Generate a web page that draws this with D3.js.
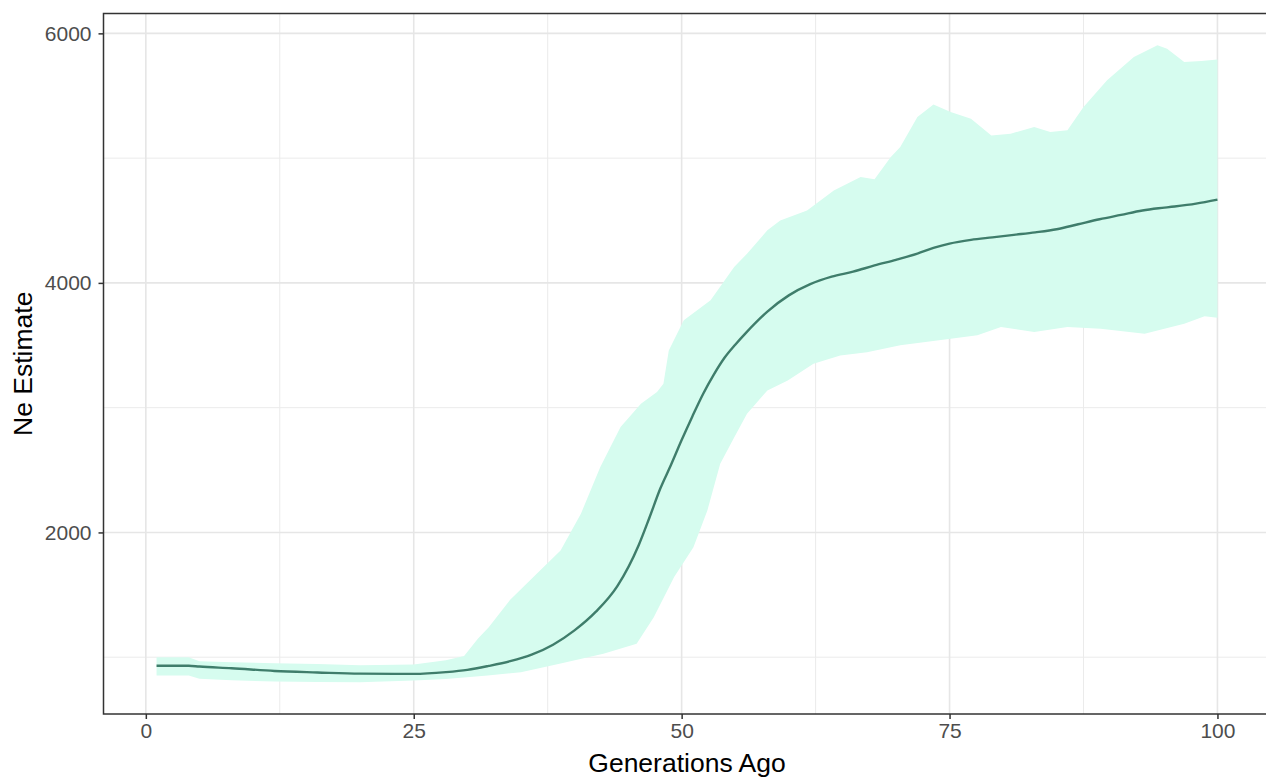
<!DOCTYPE html>
<html>
<head>
<meta charset="utf-8">
<script src="https://cdn.jsdelivr.net/npm/d3@7"></script>
<style>
  html, body { margin: 0; padding: 0; background: #fff; overflow: hidden; }
  svg { display: block; font-family: "Liberation Sans", Arial, sans-serif; }
</style>
</head>
<body>
<div id="chart"></div>
<script>
// mean Ne estimate
const meanGen = [1, 4, 5, 8, 12, 16, 20, 25, 28, 30, 32, 34, 36, 38, 40, 42, 44, 46, 47, 48, 49, 50, 51, 52, 53, 54, 55, 56, 58, 60, 62, 64, 66, 68, 70, 72, 73.5, 75, 77, 79, 81, 83, 85, 87, 89, 91, 93, 94.5, 96, 98, 100];
const meanNe = [932, 932, 925, 912, 890, 878, 868, 866, 880, 898, 930, 968, 1020, 1100, 1215, 1365, 1570, 1900, 2120, 2350, 2540, 2740, 2930, 3110, 3265, 3400, 3505, 3600, 3770, 3900, 3990, 4050, 4090, 4140, 4185, 4235, 4280, 4315, 4345, 4365, 4385, 4405, 4430, 4470, 4510, 4545, 4580, 4598, 4612, 4635, 4667];

// upper edge of the band
const upperGen = [1, 4, 5, 8, 12, 16, 20, 25, 28, 29.7, 31, 32, 34, 36.5, 38.7, 40.6, 42.4, 44.3, 46.2, 47.7, 48.3, 48.8, 50.2, 52.7, 54.9, 56.1, 58, 59.2, 61.7, 64.2, 66.7, 68, 69.5, 70.4, 72, 73.5, 75.1, 77, 78.9, 80.7, 82.9, 84.4, 86, 87.5, 89.7, 92.2, 94.4, 95.3, 96.9, 98.5, 100];
const upperNe = [1000, 1000, 968, 960, 952, 945, 935, 942, 975, 1010, 1150, 1241, 1460, 1670, 1856, 2150, 2523, 2845, 3032, 3125, 3192, 3459, 3700, 3860, 4127, 4234, 4421, 4501, 4581, 4741, 4848, 4830, 5008, 5090, 5330, 5430, 5369, 5316, 5182, 5196, 5250, 5209, 5223, 5410, 5624, 5811, 5904, 5877, 5770, 5779, 5790];

// lower edge of the band
const lowerGen = [1, 4, 5, 8, 12, 16, 20, 25, 28, 31.9, 35, 38.6, 42.7, 45.8, 47.4, 49.3, 51.1, 52.4, 53.6, 54.9, 56.1, 58, 59.9, 62.3, 64.8, 67.3, 70.4, 75.1, 77.6, 79.8, 82.9, 86, 89.1, 93.2, 96.9, 98.8, 100];
const lowerNe = [854, 854, 827, 815, 806, 802, 800, 814, 825, 854, 880, 947, 1027, 1107, 1321, 1642, 1882, 2176, 2551, 2760, 2951, 3138, 3218, 3352, 3419, 3445, 3500, 3553, 3580, 3646, 3606, 3646, 3633, 3593, 3673, 3732, 3721];

const xTicks = [0, 25, 50, 75, 100];
const xMinor = [12.5, 37.5, 62.5, 87.5];
const yTicks = [2000, 4000, 6000];
const yMinor = [1000, 3000, 5000];

const W = 1266, H = 778;
const panel = { left: 103.5, top: 13.5, right: 1270.5, bottom: 714 };

const svg = d3.select('#chart').append('svg')
  .attr('width', W).attr('height', H);

// ggplot-like 5% expansion
const xExt = d3.extent(meanGen);
const xPad = (xExt[1] - xExt[0]) * 0.05;
const allNe = meanNe.concat(upperNe, lowerNe);
const yExt = d3.extent(allNe);
const yPad = (yExt[1] - yExt[0]) * 0.05;

const x = d3.scaleLinear().domain([xExt[0] - xPad, xExt[1] + xPad]).range([panel.left, panel.right]);
const y = d3.scaleLinear().domain([yExt[0] - yPad, yExt[1] + yPad]).range([panel.bottom, panel.top]);

const grid = svg.append('g');
grid.selectAll('.xmin').data(xMinor).enter().append('line')
  .attr('x1', (d) => x(d)).attr('x2', (d) => x(d))
  .attr('y1', panel.top).attr('y2', panel.bottom)
  .attr('stroke', '#ebebeb').attr('stroke-width', 1);
grid.selectAll('.ymin').data(yMinor).enter().append('line')
  .attr('x1', panel.left).attr('x2', panel.right)
  .attr('y1', (d) => y(d)).attr('y2', (d) => y(d))
  .attr('stroke', '#ebebeb').attr('stroke-width', 1);
grid.selectAll('.xmaj').data(xTicks).enter().append('line')
  .attr('x1', (d) => x(d)).attr('x2', (d) => x(d))
  .attr('y1', panel.top).attr('y2', panel.bottom)
  .attr('stroke', '#e6e6e6').attr('stroke-width', 1.6);
grid.selectAll('.ymaj').data(yTicks).enter().append('line')
  .attr('x1', panel.left).attr('x2', panel.right)
  .attr('y1', (d) => y(d)).attr('y2', (d) => y(d))
  .attr('stroke', '#e6e6e6').attr('stroke-width', 1.6);

// band: upper edge forward, lower edge back
const bandPts = upperGen.map((g, i) => [g, upperNe[i]])
  .concat(lowerGen.map((g, i) => [g, lowerNe[i]]).reverse());
svg.append('path')
  .attr('d', d3.line().x((d) => x(d[0])).y((d) => y(d[1]))(bandPts) + 'Z')
  .attr('fill', '#d6fcef').attr('stroke', 'none');

svg.append('path')
  .datum(meanGen.map((g, i) => [g, meanNe[i]]))
  .attr('fill', 'none')
  .attr('stroke', '#3f7d6b')
  .attr('stroke-width', 2.4)
  .attr('d', d3.line().curve(d3.curveMonotoneX).x((d) => x(d[0])).y((d) => y(d[1])));

// panel border
svg.append('rect')
  .attr('x', panel.left).attr('y', panel.top)
  .attr('width', panel.right - panel.left).attr('height', panel.bottom - panel.top)
  .attr('fill', 'none').attr('stroke', '#333').attr('stroke-width', 1.5);

// axes
const xAxis = svg.append('g')
  .attr('transform', `translate(0,${panel.bottom})`)
  .call(d3.axisBottom(x).tickValues(xTicks).tickSize(5).tickPadding(4).tickFormat(d3.format('d')));
const yAxis = svg.append('g')
  .attr('transform', `translate(${panel.left},0)`)
  .call(d3.axisLeft(y).tickValues(yTicks).tickSize(5).tickPadding(7).tickFormat(d3.format('d')));

[xAxis, yAxis].forEach((a) => {
  a.select('.domain').remove();
  a.selectAll('.tick line').attr('stroke', '#333').attr('stroke-width', 1.5);
  a.selectAll('text').attr('fill', '#4d4d4d').style('font-size', '21px')
    .style('font-family', '"Liberation Sans", Arial, sans-serif');
});

svg.append('text')
  .attr('x', (panel.left + panel.right) / 2).attr('y', 772)
  .attr('text-anchor', 'middle')
  .style('font-size', '26.5px').attr('fill', '#000')
  .text('Generations Ago');

svg.append('text')
  .attr('transform', `translate(32,${(panel.top + panel.bottom) / 2}) rotate(-90)`)
  .attr('text-anchor', 'middle')
  .style('font-size', '26.5px').attr('fill', '#000')
  .text('Ne Estimate');
</script>
</body>
</html>
